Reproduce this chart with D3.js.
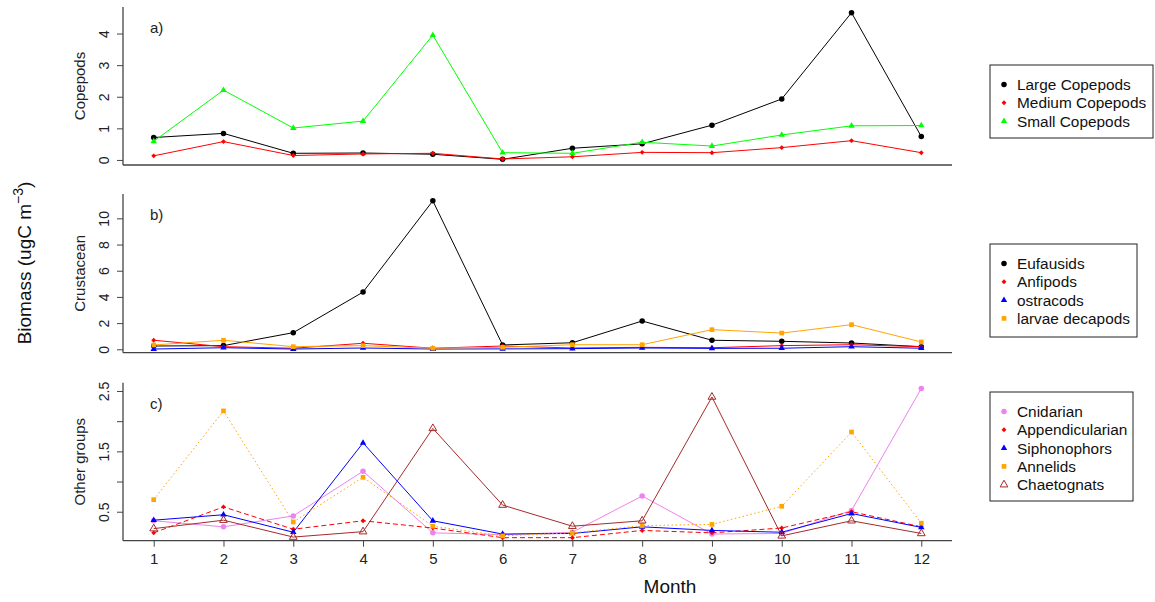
<!DOCTYPE html>
<html>
<head>
<meta charset="utf-8">
<script src="https://cdn.jsdelivr.net/npm/d3@7"></script>
<style>
  body { margin: 0; background: #fff; }
  svg { font-family: "Liberation Sans", Arial, sans-serif; }
</style>
</head>
<body>
<div id="chart"></div>
<script>
// months on the x axis
var months = [1, 2, 3, 4, 5, 6, 7, 8, 9, 10, 11, 12]

// panel a) copepods
var largeCopepods  = [0.71, 0.84, 0.21, 0.22, 0.18, 0.02, 0.37, 0.51, 1.10, 1.93, 4.66, 0.74]
var mediumCopepods = [0.13, 0.58, 0.14, 0.19, 0.21, 0.03, 0.10, 0.24, 0.23, 0.39, 0.61, 0.23]
var smallCopepods  = [0.59, 2.21, 1.01, 1.23, 3.95, 0.23, 0.21, 0.56, 0.44, 0.79, 1.08, 1.09]

// panel b) crustacean
var eufausids      = [0.25, 0.28, 1.27, 4.37, 11.34, 0.33, 0.50, 2.16, 0.69, 0.61, 0.48, 0.20]
var anfipods       = [0.69, 0.20, 0.08, 0.46, 0.08, 0.25, 0.10, 0.15, 0.12, 0.28, 0.35, 0.20]
var ostracods      = [0.02, 0.12, 0.02, 0.10, 0.02, 0.03, 0.05, 0.10, 0.07, 0.08, 0.20, 0.08]
var larvaeDecapods = [0.33, 0.69, 0.20, 0.28, 0.08, 0.15, 0.35, 0.35, 1.50, 1.24, 1.88, 0.56]

// panel c) other groups
var cnidarian       = [0.35, 0.25, 0.43, 1.17, 0.15, 0.12, 0.16, 0.76, 0.13, 0.14, 0.52, 2.54]
var appendicularian = [0.15, 0.58, 0.21, 0.35, 0.23, 0.07, 0.07, 0.19, 0.15, 0.23, 0.50, 0.25]
var siphonophors    = [0.36, 0.45, 0.16, 1.64, 0.35, 0.13, 0.14, 0.25, 0.19, 0.16, 0.47, 0.24]
var annelids        = [0.70, 2.17, 0.33, 1.07, 0.26, 0.10, 0.15, 0.27, 0.29, 0.59, 1.82, 0.31]
var chaetognats     = [0.22, 0.36, 0.08, 0.17, 1.88, 0.61, 0.26, 0.35, 2.40, 0.10, 0.35, 0.14]

// y tick values per panel
var ticksA = [0, 1, 2, 3, 4]
var ticksB = [0, 2, 4, 6, 8, 10]
var ticksC = [0.5, 1, 1.5, 2, 2.5]
var labelsC = [0.5, 1.5, 2.5]

var width = 1155, height = 602
var left = 123, right = 952

var svg = d3.select('#chart').append('svg')
    .attr('width', width)
    .attr('height', height)
svg.append('rect').attr('width', width).attr('height', height).attr('fill', '#fff')

var x = d3.scaleLinear().domain([0.56, 12.44]).range([left, right])

var panels = [
  {tag: 'a)', title: 'Copepods', top: 7, bottom: 165, domain: [-0.16, 4.84], ticks: ticksA, labels: ticksA,
   legend: {x: 990, y: 65, w: 163, h: 73},
   series: [
     {name: 'Large Copepods', values: largeCopepods, color: '#000000', shape: 'circle', dash: null},
     {name: 'Medium Copepods', values: mediumCopepods, color: '#ff0000', shape: 'diamond', dash: null},
     {name: 'Small Copepods', values: smallCopepods, color: '#00ff00', shape: 'triangle', dash: null}
   ]},
  {tag: 'b)', title: 'Crustacean', top: 194, bottom: 352.7, domain: [-0.26, 11.86], ticks: ticksB, labels: ticksB,
   legend: {x: 990, y: 244, w: 147, h: 93},
   series: [
     {name: 'Eufausids', values: eufausids, color: '#000000', shape: 'circle', dash: null},
     {name: 'Anfipods', values: anfipods, color: '#ff0000', shape: 'diamond', dash: null},
     {name: 'ostracods', values: ostracods, color: '#0000ff', shape: 'triangle', dash: null},
     {name: 'larvae decapods', values: larvaeDecapods, color: '#ffa500', shape: 'square', dash: null}
   ]},
  {tag: 'c)', title: 'Other groups', top: 382.7, bottom: 540.7, domain: [0.02, 2.637], ticks: ticksC, labels: labelsC,
   legend: {x: 990, y: 392, w: 143, h: 109},
   series: [
     {name: 'Cnidarian', values: cnidarian, color: '#ee82ee', shape: 'circle', dash: null},
     {name: 'Appendicularian', values: appendicularian, color: '#ff0000', shape: 'diamond', dash: '5,3'},
     {name: 'Siphonophors', values: siphonophors, color: '#0000ff', shape: 'triangle', dash: null},
     {name: 'Annelids', values: annelids, color: '#ffa500', shape: 'square', dash: '1.5,2.5'},
     {name: 'Chaetognats', values: chaetognats, color: '#a52a2a', shape: 'openTriangle', dash: null}
   ]}
]

// R style point symbols: pch 19, 18, 17, 15, 2
function marker(sel, shape, color) {
  var types = {circle: [d3.symbolCircle, 24], diamond: [d3.symbolSquare, 12], triangle: [d3.symbolTriangle, 18],
               square: [d3.symbolSquare, 22], openTriangle: [d3.symbolTriangle, 26]}
  var t = types[shape]
  sel.attr('d', d3.symbol().type(t[0]).size(t[1])())
  if (shape == 'diamond') {
    sel.attr('transform', function() { return d3.select(this).attr('transform') + ' rotate(45)' })
  }
  if (shape == 'openTriangle') {
    sel.attr('fill', 'none').attr('stroke', color).attr('stroke-width', 1)
  } else {
    sel.attr('fill', color)
  }
}

panels.forEach(function(p, i) {
  var y = d3.scaleLinear().domain(p.domain).range([p.bottom, p.top])
  var g = svg.append('g')

  // left axis
  var ya = g.append('g')
    .attr('transform', 'translate(' + left + ',0)')
    .call(d3.axisLeft(y).tickValues(p.ticks).tickSize(6).tickSizeOuter(0)
      .tickFormat(function(d) { return p.labels.indexOf(d) >= 0 ? d3.format('')(d) : '' }))
  ya.select('.domain').remove()
  ya.selectAll('.tick line').attr('stroke', '#444')
  ya.selectAll('.tick text')
    .attr('transform', 'rotate(-90)')
    .attr('x', 0).attr('y', -14).attr('dy', 0)
    .attr('text-anchor', 'middle')
    .attr('font-size', 14).attr('fill', '#222')
  g.append('line').attr('x1', left).attr('x2', left).attr('y1', p.top).attr('y2', p.bottom)
    .attr('stroke', '#444').attr('stroke-width', 1.3)
  g.append('line').attr('x1', left).attr('x2', right).attr('y1', p.bottom).attr('y2', p.bottom)
    .attr('stroke', '#444').attr('stroke-width', 1.3)

  // bottom axis on the last panel only
  if (i == 2) {
    var xa = g.append('g')
      .attr('transform', 'translate(0,' + p.bottom + ')')
      .call(d3.axisBottom(x).tickValues(months).tickSize(6).tickPadding(7).tickFormat(d3.format('d')))
    xa.select('.domain').remove()
    xa.selectAll('.tick line').attr('stroke', '#444')
    xa.selectAll('.tick text').attr('font-size', 15).attr('fill', '#222')
  }

  g.append('text')
    .attr('transform', 'translate(85,' + (p.top + p.bottom) / 2 + ') rotate(-90)')
    .attr('text-anchor', 'middle')
    .attr('font-size', 15).attr('fill', '#222')
    .text(p.title)

  g.append('text').attr('x', 150).attr('y', p.top + 26)
    .attr('font-size', 15).attr('fill', '#222').text(p.tag)

  var line = d3.line().x(function(d, k) { return x(months[k]) }).y(function(d) { return y(d) })
  p.series.forEach(function(s) {
    g.append('path').datum(s.values)
      .attr('d', line)
      .attr('fill', 'none')
      .attr('stroke', s.color)
      .attr('stroke-width', 1)
      .attr('stroke-dasharray', s.dash)
    g.selectAll(null).data(s.values).enter().append('path')
      .attr('transform', function(d, k) { return 'translate(' + x(months[k]) + ',' + y(d) + ')' })
      .call(marker, s.shape, s.color)
  })

  // legend
  var L = p.legend
  var lg = svg.append('g')
  lg.append('rect').attr('x', L.x).attr('y', L.y).attr('width', L.w).attr('height', L.h)
    .attr('fill', '#fff').attr('stroke', '#222').attr('stroke-width', 1)
  p.series.forEach(function(s, k) {
    var cy = L.y + 19.5 + k * 18.3
    lg.append('path').attr('transform', 'translate(1004,' + cy + ')').call(marker, s.shape, s.color)
    lg.append('text').attr('x', 1017).attr('y', cy + 5.5)
      .attr('font-size', 15.4).attr('fill', '#111').text(s.name)
  })
})

svg.append('text')
  .attr('x', 670).attr('y', 593)
  .attr('text-anchor', 'middle')
  .attr('font-size', 19).attr('fill', '#111')
  .text('Month')

var bio = svg.append('text')
  .attr('transform', 'translate(31,263) rotate(-90)')
  .attr('text-anchor', 'middle')
  .attr('font-size', 19).attr('fill', '#111')
bio.append('tspan').text('Biomass (ugC m')
bio.append('tspan').attr('dy', -8).attr('font-size', 14).text('\u22123')
bio.append('tspan').attr('dy', 8).text(')')
</script>
</body>
</html>
